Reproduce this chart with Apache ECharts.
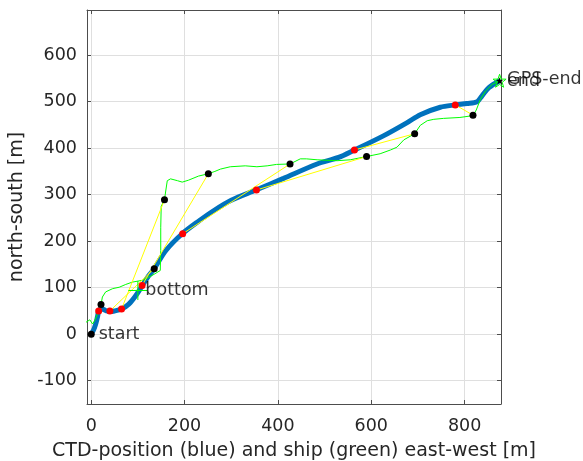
<!DOCTYPE html>
<html>
<head>
<meta charset="utf-8">
<script src="https://cdn.jsdelivr.net/npm/echarts@6/dist/echarts.min.js"></script>
<style>html,body{margin:0;padding:0;background:#fff}#c{width:583px;height:461px}</style>
</head>
<body>
<div id="c"></div>
<script>
// Axis ranges (metres)
const xRange = [-9, 878];
const yRange = [-150, 697];

// CTD track (blue)
const ctdX = [0, 5, 9, 12, 14, 16, 21, 27, 33, 40, 50, 65, 80, 95, 109, 122, 135, 160, 195, 230, 263, 300, 353, 412, 484, 530, 564, 627, 677, 705, 748, 780, 805, 827, 837, 852, 875];
const ctdY = [0, 9, 20, 31, 40, 50, 55, 53, 50, 49, 50, 54, 64, 82, 104, 124, 141, 180, 216, 243, 266, 288, 310, 335, 366, 380, 396, 427, 455, 472, 488, 493, 496, 500, 512, 530, 545];

// Ship track (green)
const shipX = [-15, -9, -3, 3, 8, 14, 21, 24, 31, 46, 60, 74, 88, 110, 130, 148, 149, 149, 150, 157, 160, 163, 170, 185, 195, 208, 230, 251, 265, 277, 298, 330, 355, 377, 397, 426, 448, 461, 484, 527, 555, 590, 619, 641, 655, 670, 693, 705, 720, 734, 755, 790, 818, 825, 834, 845, 859, 875];
const shipY = [24, 27, 31, 22, 30, 45, 64, 80, 91, 98, 101, 107, 112, 116, 126, 137, 180, 230, 275, 289, 310, 330, 334, 330, 327, 331, 340, 345, 350, 355, 360, 362, 360, 362, 365, 366, 377, 377, 375, 373, 375, 382, 388, 396, 402, 418, 431, 449, 459, 462, 464, 466, 470, 482, 505, 523, 537, 545];

// CTD sample positions (red) and simultaneous ship positions (black)
const ctdPtX = [16, 40, 65, 109, 196, 354, 564, 780];
const ctdPtY = [50, 50, 54, 105, 216, 310, 396, 493];
const shipPtX = [21, 135, 157, 251, 426, 590, 693, 818];
const shipPtY = [64, 141, 289, 345, 366, 382, 431, 471];

// Annotations
const labelText = ['start', 'bottom', 'end', 'GPS-end'];
const labelX = [0, 100, 875, 875];
const labelY = [0, 94, 543, 547];
const bottomMark = [100, 94];
const endMark = [875, 545];

const FONT = 'DejaVu Sans';
const TXT = '#262626';
const BOX = '#4d4d4d';

const zip = (xs, ys) => xs.map((x, i) => [x, ys[i]]);
const star = 'path://M0,-10L2.35,-3.24L9.51,-3.09L3.8,1.24L5.88,8.09L0,4.2L-5.88,8.09L-3.8,1.24L-9.51,-3.09L-2.35,-3.24Z';
const plus = 'path://M0,-10L0,10M-10,0L10,0';

const series = [];
series.push({
  type: 'line', data: zip(ctdX, ctdY), symbol: 'none', smooth: 0.3, z: 2,
  lineStyle: { color: '#0072BD', width: 5 }
});
series.push({
  type: 'line', data: zip(shipX, shipY), symbol: 'none', z: 3,
  lineStyle: { color: '#00ff00', width: 1 }
});
ctdPtX.forEach((x, i) => {
  series.push({
    type: 'line', data: [[x, ctdPtY[i]], [shipPtX[i], shipPtY[i]]], symbol: 'none', z: 4,
    lineStyle: { color: '#ffff00', width: 1 }
  });
});
series.push({
  type: 'scatter', data: zip(ctdPtX, ctdPtY), symbol: 'circle', symbolSize: 7, z: 5,
  itemStyle: { color: '#ff0000', opacity: 1 }
});
series.push({
  type: 'scatter', data: zip(shipPtX, shipPtY).concat([[0, 0]]), symbol: 'circle', symbolSize: 7, z: 5,
  itemStyle: { color: '#000000', opacity: 1 }
});
series.push({
  type: 'scatter', data: [bottomMark], symbol: plus, symbolSize: 19, z: 6,
  itemStyle: { color: 'none', borderColor: '#00ff00', borderWidth: 1, opacity: 1 }
});
series.push({
  type: 'scatter', data: [endMark], symbol: star, symbolSize: 13, z: 6,
  itemStyle: { color: 'none', borderColor: '#00ff00', borderWidth: 1, opacity: 1 }
});
series.push({
  type: 'scatter', data: [endMark], symbol: star, symbolSize: 7, z: 7,
  itemStyle: { color: '#000000', opacity: 1 }
});
series.push({
  type: 'scatter', z: 8, symbolSize: 1, itemStyle: { color: 'rgba(0,0,0,0)' },
  data: labelText.map((t, i) => ({ value: [labelX[i], labelY[i]], name: t })),
  label: {
    show: true, position: 'right', distance: 7, formatter: p => p.name,
    fontFamily: FONT, fontSize: 17.5, color: '#000'
  }
});

const xBase = {
  type: 'value', min: xRange[0], max: xRange[1], splitNumber: 5, scale: true
};
const yBase = {
  type: 'value', min: yRange[0], max: yRange[1], splitNumber: 8, scale: true
};
const boxLine = { show: true, onZero: false, lineStyle: { color: BOX, width: 1 } };
const inTick = { show: true, inside: true, length: 4, lineStyle: { color: BOX } };

const option = {
  animation: false,
  backgroundColor: '#fff',
  grid: { left: 87, top: 10, width: 414, height: 394, containLabel: false, outerBoundsMode: 'none' },
  xAxis: [
    Object.assign({}, xBase, {
      position: 'bottom',
      name: 'CTD-position (blue) and ship (green) east-west [m]',
      nameLocation: 'middle', nameGap: 38,
      nameTextStyle: { fontFamily: FONT, fontSize: 19, color: TXT },
      axisLine: boxLine,
      axisTick: inTick,
      axisLabel: { show: true, margin: 13, fontFamily: FONT, fontSize: 17.5, color: TXT, showMinLabel: false, showMaxLabel: false },
      splitLine: { show: true, lineStyle: { color: '#dfdfdf', width: 1 } }
    }),
    Object.assign({}, xBase, {
      position: 'top',
      axisLine: boxLine,
      axisTick: inTick,
      axisLabel: { show: false },
      splitLine: { show: false }
    })
  ],
  yAxis: [
    Object.assign({}, yBase, {
      position: 'left',
      name: 'north-south [m]',
      nameLocation: 'middle', nameGap: 46,
      nameTextStyle: { fontFamily: FONT, fontSize: 19, color: TXT },
      axisLine: boxLine,
      axisTick: inTick,
      axisLabel: { show: true, margin: 10, fontFamily: FONT, fontSize: 17.5, color: TXT, showMinLabel: false, showMaxLabel: false },
      splitLine: { show: true, lineStyle: { color: '#dfdfdf', width: 1 } }
    }),
    Object.assign({}, yBase, {
      position: 'right',
      axisLine: boxLine,
      axisTick: inTick,
      axisLabel: { show: false },
      splitLine: { show: false }
    })
  ],
  series: series
};

const chart = echarts.init(document.getElementById('c'), null, { renderer: 'canvas' });
chart.setOption(option);
</script>
</body>
</html>
